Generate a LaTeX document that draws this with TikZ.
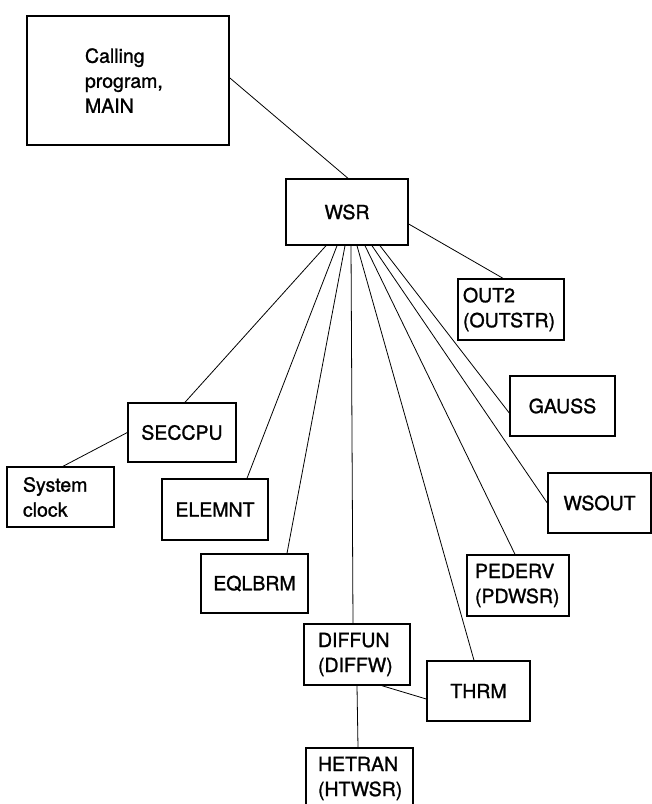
\documentclass[tikz,border=0pt]{standalone}
\usepackage{fontspec}
\setmainfont{TeX Gyre Heros}[FakeBold=1.2]
\usetikzlibrary{calc}
\tikzset{
  box/.style={draw, line width=1.4pt, rectangle, font=\fontsize{19.5}{25}\selectfont, inner ysep=0pt},
  cbox/.style={box, align=center},
  lbox/.style={box, align=left},
  conn/.style={draw, line width=0.8pt}
}
\begin{document}
\begin{tikzpicture}[x=1pt,y=-1pt]
\clip (0,0) rectangle (652,804);
\fill[white] (0,0) rectangle (652,804);
\useasboundingbox (0,0) rectangle (652,804);

\node[lbox, line width=1.8pt, minimum width=202pt, minimum height=129pt, text width=86pt, inner xsep=0pt] (main) at (128,80.5) {Calling\\program,\\MAIN};
\node[cbox, minimum width=122pt, minimum height=66pt] (wsr) at (347,212) {WSR};
\node[lbox, minimum width=106pt, minimum height=61pt, text width=96pt, inner xsep=5pt] (out2) at (511,309.5) {OUT2\\(OUTSTR)};
\node[cbox, minimum width=105pt, minimum height=60pt] (gauss) at (562.5,406) {GAUSS};
\node[cbox, minimum width=103pt, minimum height=60pt] (wsout) at (599.5,503) {WSOUT};
\node[cbox, minimum width=108pt, minimum height=59pt] (seccpu) at (182,432.5) {SECCPU};
\node[lbox, minimum width=107pt, minimum height=60pt, text width=75pt, inner xsep=16pt] (clock) at (60.5,497) {System\\clock};
\node[cbox, minimum width=106pt, minimum height=61pt] (elemnt) at (215,509.5) {ELEMNT};
\node[cbox, minimum width=107pt, minimum height=59pt] (eqlbrm) at (254.5,583.5) {EQLBRM};
\node[lbox, minimum width=102pt, minimum height=61pt, text width=86pt, inner xsep=8pt] (pederv) at (518,585.5) {PEDERV\\(PDWSR)};
\node[lbox, minimum width=106pt, minimum height=61pt, text width=78pt, inner xsep=14pt] (diffun) at (357,654.5) {DIFFUN\\(DIFFW)};
\node[cbox, minimum width=103pt, minimum height=60pt] (thrm) at (478.5,691) {THRM};
\node[lbox, minimum width=107pt, minimum height=61pt, text width=83pt, inner xsep=12pt] (hetran) at (359.5,778.5) {HETRAN\\(HTWSR)};

\draw[conn] ([yshift=2.5pt]main.east) -- ([xshift=1pt]wsr.north);
\draw[conn] ([yshift=-12pt]wsr.east) -- ([xshift=-8pt]out2.north);
\draw[conn] ([xshift=-21pt]wsr.south) -- ([xshift=3pt]seccpu.north);
\draw[conn] ([xshift=-10pt]wsr.south) -- ([xshift=32pt]elemnt.north);
\draw[conn] ([xshift=-2pt]wsr.south) -- ([xshift=32.5pt]eqlbrm.north);
\draw[conn] ([xshift=4pt]wsr.south) -- ([xshift=-4pt]diffun.north);
\draw[conn] ([xshift=10pt]wsr.south) -- ([xshift=-4.5pt]thrm.north);
\draw[conn] ([xshift=18pt]wsr.south) -- ([xshift=-3pt]pederv.north);
\draw[conn] ([xshift=25pt]wsr.south) -- (wsout.west);
\draw[conn] ([xshift=33pt]wsr.south) -- ([yshift=-7pt]gauss.west);
\draw[conn] (seccpu.west) -- ([xshift=2.5pt]clock.north);
\draw[conn] ([xshift=25pt]diffun.south) -- ([yshift=-8pt]thrm.west);
\draw[conn] (diffun.south) -- ([xshift=-1.5pt]hetran.north);
\end{tikzpicture}
\end{document}
